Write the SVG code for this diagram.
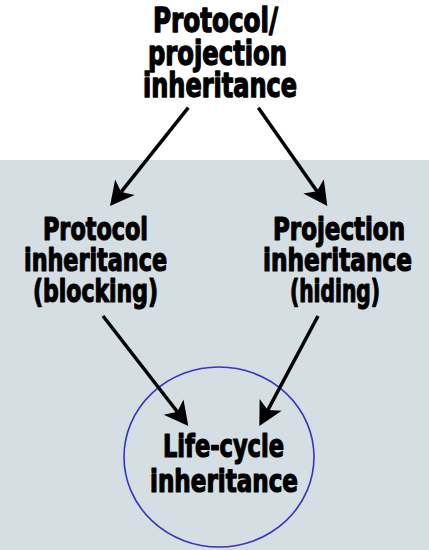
<svg xmlns="http://www.w3.org/2000/svg" width="429" height="550" viewBox="0 0 429 550">
  <style>
    .lbl { font-family: "DejaVu Sans Condensed", "Liberation Sans Narrow", "Liberation Sans", sans-serif; font-weight: bold; font-size: 26px; fill: #000; stroke: #000; stroke-width: 1; stroke-linejoin: round; }
    .conn { stroke: #000; stroke-width: 3.5; fill: none; marker-end: url(#head); }
  </style>
  <defs>
    <marker id="head" markerUnits="userSpaceOnUse" viewBox="-8 -14 28 28" refX="0" refY="0" markerWidth="28" markerHeight="28" orient="auto" overflow="visible">
      <path d="M18,0 L-6,-12.5 L0,0 L-6,12.5 Z" fill="#000"/>
    </marker>
  </defs>

  <rect width="429" height="550" fill="#ffffff"/>
  <rect x="0" y="160" width="429" height="390" fill="#d5dfe3"/>

  <!-- labels: condensed bold face stretched vertically; textLength fixes each line's width -->
  <g id="node-protocol-projection">
    <text class="lbl" transform="translate(153,32) scale(1,1.3)" textLength="125" lengthAdjust="spacingAndGlyphs">Protocol/</text>
    <text class="lbl" transform="translate(148,64.5) scale(1,1.3)" textLength="139" lengthAdjust="spacingAndGlyphs">projection</text>
    <text class="lbl" transform="translate(143,97) scale(1,1.3)" textLength="154" lengthAdjust="spacingAndGlyphs">inheritance</text>
  </g>

  <g id="node-protocol">
    <text class="lbl" transform="translate(43,240) scale(1,1.23)" textLength="105" lengthAdjust="spacingAndGlyphs">Protocol</text>
    <text class="lbl" transform="translate(24,271) scale(1,1.23)" textLength="143" lengthAdjust="spacingAndGlyphs">inheritance</text>
    <text class="lbl" transform="translate(33,302) scale(1,1.23)" textLength="125" lengthAdjust="spacingAndGlyphs">(blocking)</text>
  </g>

  <g id="node-projection">
    <text class="lbl" transform="translate(273,240) scale(1,1.23)" textLength="132" lengthAdjust="spacingAndGlyphs">Projection</text>
    <text class="lbl" transform="translate(263,271) scale(1,1.23)" textLength="149" lengthAdjust="spacingAndGlyphs">inheritance</text>
    <text class="lbl" transform="translate(290,302) scale(1,1.23)" textLength="90" lengthAdjust="spacingAndGlyphs">(hiding)</text>
  </g>

  <g id="node-lifecycle">
    <ellipse cx="219" cy="457" rx="95" ry="90" fill="none" stroke="#3535c4" stroke-width="1.6"/>
    <text class="lbl" transform="translate(163,457) scale(1,1.23)" textLength="121" lengthAdjust="spacingAndGlyphs">Life-cycle</text>
    <text class="lbl" transform="translate(150,492) scale(1,1.23)" textLength="148" lengthAdjust="spacingAndGlyphs">inheritance</text>
  </g>

  <g id="connectors">
    <line class="conn" x1="188.3" y1="107.7" x2="121.2" y2="191.9"/>
    <line class="conn" x1="258.3" y1="107.7" x2="317" y2="191.3"/>
    <line class="conn" x1="103" y1="316" x2="177.3" y2="411.8"/>
    <line class="conn" x1="318" y1="316" x2="267.8" y2="410.1"/>
  </g>
</svg>
